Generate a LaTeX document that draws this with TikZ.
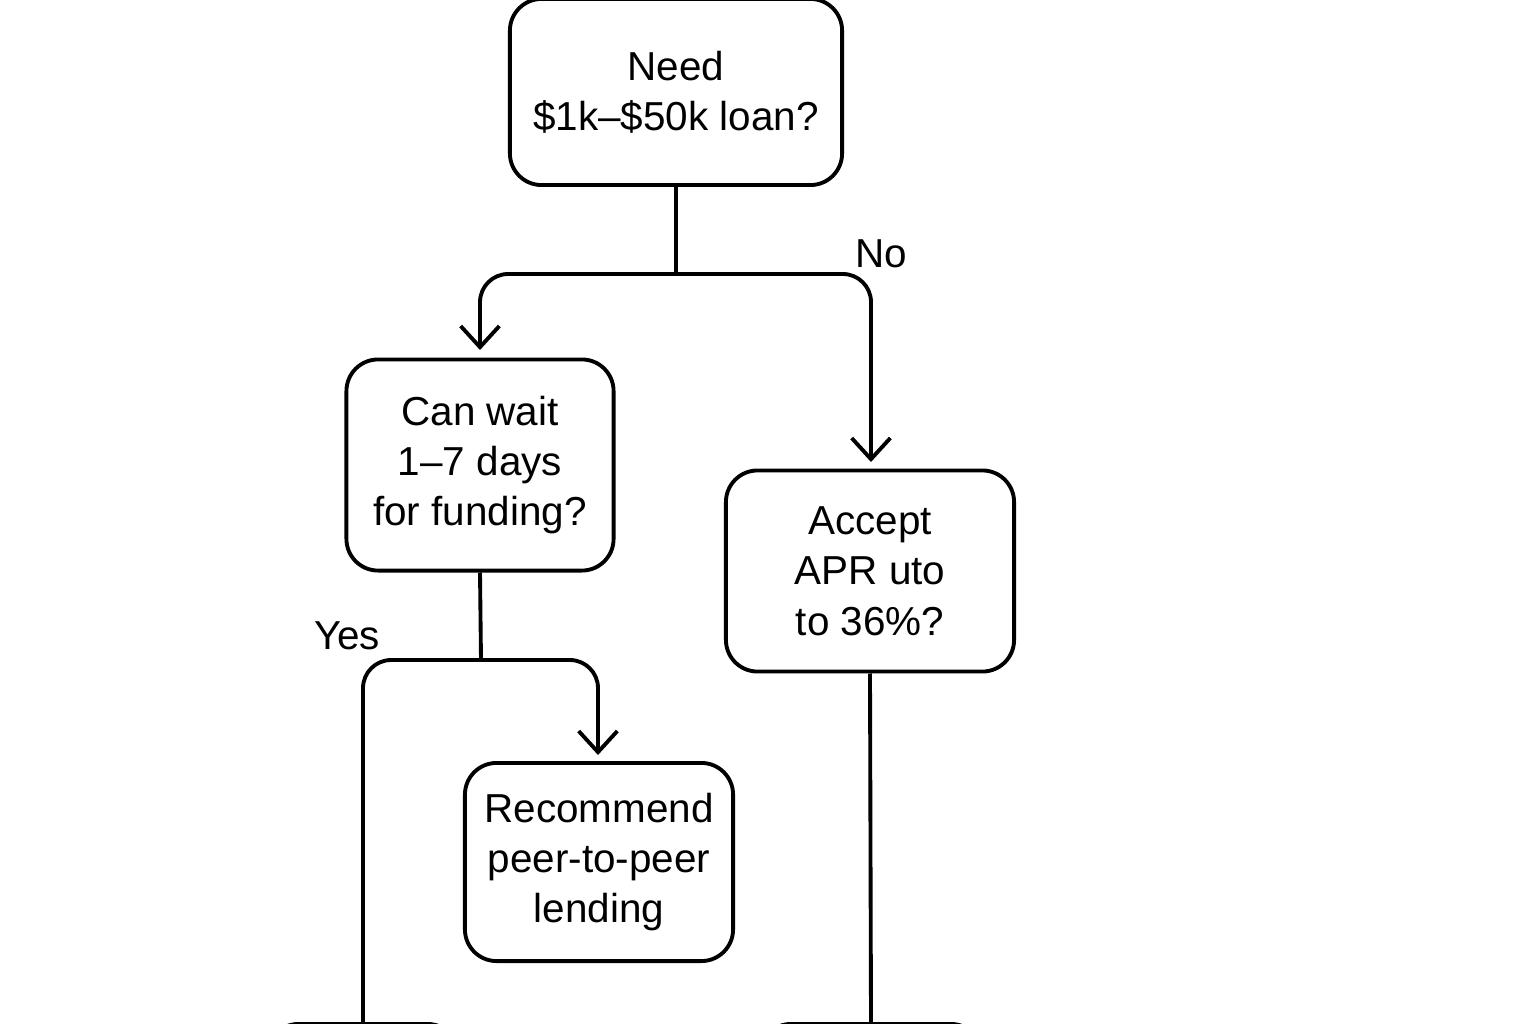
\documentclass[tikz,border=0pt]{standalone}
\usepackage{fontspec}
\setmainfont{Liberation Sans}
\usetikzlibrary{arrows.meta}
\begin{document}
\begin{tikzpicture}[x=0.01cm,y=-0.01cm,
    box/.style={draw,line width=1.1pt,rounded corners=9pt,align=center,
      font=\fontsize{11.5}{14.3}\selectfont,inner sep=0pt},
    link/.style={line width=1.1pt,rounded corners=8pt},
    arr/.style={-{Straight Barb[length=6pt,width=11pt,line width=1.1pt]}}]
    \useasboundingbox (0,0) rectangle (1536,1024);
    \clip (0,0) rectangle (1536,1024);

    % Boxes
    \node[box,minimum width=332\pgflinewidth*0,minimum width=3.32cm,minimum height=1.86cm] (need) at (676,92) {Need\\\$1k--\$50k loan?};
    \node[box,minimum width=2.67cm,minimum height=2.11cm] (wait) at (480,465) {Can wait\\1--7 days\\for funding?};
    \node[box,minimum width=2.88cm,minimum height=2.01cm] (apr) at (870,571) {Accept\\APR uto\\to 36\%?};
    \node[box,minimum width=2.68cm,minimum height=1.98cm] (peer) at (599,862) {Recommend\\peer-to-peer\\lending};
    \node[box,minimum width=1.92cm,minimum height=1.5cm,anchor=north] (left) at (363,1022) {};
    \node[box,minimum width=2.23cm,minimum height=1.5cm,anchor=north] (right) at (871,1022) {};

    % Connectors
    \coordinate (split) at (676,274);
    \draw[link] (need.south) -- (split);
    \draw[link,arr] (split) -| (480,350);
    \draw[link,arr] (split) -| (871,462);
    \node (no) at (881,254) {\fontsize{11.5}{14}\selectfont No};

    \coordinate (fork) at (481,660);
    \draw[link] (wait.south) -- (fork);
    \draw[link] (fork) -| (left.north);
    \draw[link,arr] (fork) -| (598,755);
    \node (yes) at (347,636) {\fontsize{11.5}{14}\selectfont Yes};

    \draw[link] (apr.south) -- (right.north);
\end{tikzpicture}
\end{document}
